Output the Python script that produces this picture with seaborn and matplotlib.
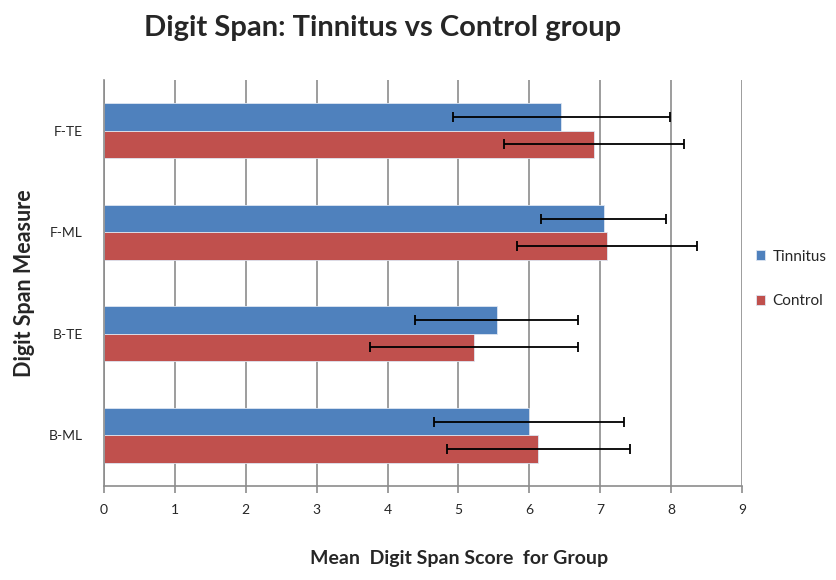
# Digit Span: Tinnitus vs Control group
import numpy as np
import pandas as pd
import matplotlib
matplotlib.use("Agg")
import matplotlib.pyplot as plt
import seaborn as sns

# dados
medidas = ["F-TE", "F-ML", "B-TE", "B-ML"]
tinnitus = [6.45, 7.05, 5.54, 6.00]
controle = [6.91, 7.10, 5.22, 6.13]
erro_tinnitus = [1.53, 0.88, 1.15, 1.34]
erro_controle = [1.27, 1.27, 1.47, 1.29]
grupos = ["Tinnitus", "Control"]
cores = ["#4F81BD", "#C0504D"]

df = pd.DataFrame({
    "Measure": medidas * 2,
    "Score": tinnitus + controle,
    "Err": erro_tinnitus + erro_controle,
    "Group": ["Tinnitus"] * 4 + ["Control"] * 4,
})

sns.set_style("white")
plt.rcParams["font.family"] = ["Lato", "DejaVu Sans"]

fig = plt.figure(figsize=(8.37, 5.8), dpi=100)
ax = fig.add_axes([0.1243, 0.162, 0.762, 0.700])

sns.barplot(data=df, x="Score", y="Measure", hue="Group", order=medidas,
            hue_order=grupos, palette=cores, orient="h", width=0.54,
            errorbar=None, saturation=1, ax=ax, zorder=2,
            edgecolor="#dde6f2", linewidth=0.6)

# barras de erro nos centros das barras
for cont, g in zip(ax.containers, grupos):
    sub = df[df["Group"] == g].set_index("Measure").loc[medidas]
    ys = [p.get_y() + p.get_height() / 2 for p in cont]
    ax.errorbar(sub["Score"], ys, xerr=sub["Err"], fmt="none", ecolor="black",
                elinewidth=1.3, capsize=3.5, capthick=1.3, zorder=4)

ax.set_xlim(0, 9)
ax.set_ylim(3.5, -0.5)
ax.set_xticks(range(10))
ax.grid(axis="x", color="#8c8c8c", linewidth=1.2, zorder=0)
ax.set_axisbelow(True)
for s in ["top", "right"]:
    ax.spines[s].set_visible(False)
for s in ["left", "bottom"]:
    ax.spines[s].set_color("#8c8c8c")
    ax.spines[s].set_linewidth(1.2)
ax.tick_params(axis="x", bottom=True, length=5, color="#8c8c8c", width=1.2,
               labelsize=10, pad=8)
ax.tick_params(axis="y", left=False, labelsize=10, pad=12)
ax.set_xlabel("")
ax.set_ylabel("Digit Span Measure", fontsize=15.5, fontweight="bold", labelpad=10)

fig.text(0.548, 0.022, "Mean  Digit Span Score  for Group", fontsize=14,
         fontweight="bold", ha="center", va="bottom")
fig.text(0.457, 0.952, "Digit Span: Tinnitus vs Control group", fontsize=21,
         fontweight="bold", ha="center", va="center")

ax.legend(loc="center left", bbox_to_anchor=(1.0, 0.51), frameon=False,
          handlelength=0.6, handleheight=0.6, handletextpad=0.5,
          labelspacing=2.0, fontsize=11)

fig.savefig("out.png", dpi=100)
